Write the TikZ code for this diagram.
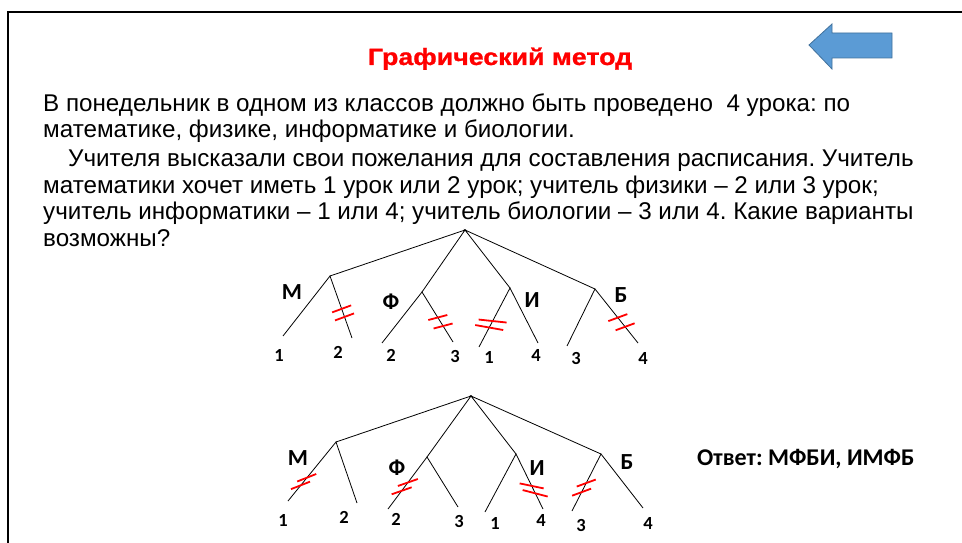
\documentclass[tikz,border=0pt]{standalone}
\usepackage{fontspec}
\setmainfont{Liberation Sans}
\newfontfamily\calibri{Carlito Bold}
\newfontfamily\titlefont[FakeStretch=1.14, FakeBold=1]{Liberation Sans Bold}
\frenchspacing
\usetikzlibrary{calc}
\definecolor{arrowblue}{HTML}{5B9BD5}
\definecolor{arrowedge}{HTML}{41719C}
\tikzset{
  body/.style={anchor=base west, inner sep=0pt, font=\fontsize{24.2}{28}\selectfont},
  branch/.style={line width=0.8pt},
  cut/.style={red, line width=1.8pt},
  letter/.style={inner sep=0pt, font=\calibri\fontsize{23}{26}\selectfont},
  num/.style={inner sep=0pt, font=\calibri\fontsize{18.5}{20}\selectfont}
}
\begin{document}
\begin{tikzpicture}[x=1pt,y=-1pt]
        \useasboundingbox (0,0) rectangle (962,543);
        % slide frame
        \draw [line width=2pt] (8,543) -- (8,12) -- (962,12);
        % back arrow
        \draw [fill=arrowblue, draw=arrowedge, line width=0.8pt] (809,45) -- (832,24) -- (832,33) -- (892,33) -- (892,58) -- (832,58) -- (832,69) -- cycle;
        % title and task
        \node [anchor=base, inner sep=0pt, text=red, font=\titlefont\fontsize{23.5}{26}\selectfont] (title) at (500,65) {Графический метод};
        \node [body] (l1) at (43,111) {В понедельник в одном из классов должно быть проведено \ 4 урока: по};
        \node [body] (l2) at (43,137) {математике, физике, информатике и биологии.};
        \node [body] (l3) at (68,166) {Учителя высказали свои пожелания для составления расписания. Учитель};
        \node [body] (l4) at (43,193) {математики хочет иметь 1 урок или 2 урок; учитель физики – 2 или 3 урок;};
        \node [body] (l5) at (43,219) {учитель информатики – 1 или 4; учитель биологии – 3 или 4. Какие варианты};
        \node [body] (l6) at (43,246) {возможны?};
        % first tree
        \coordinate (a) at (465,230);
        \coordinate (am) at (330,276);
        \coordinate (am1) at (283,336);
        \coordinate (am2) at (352,338);
        \coordinate (af) at (422,292);
        \coordinate (af1) at (382,343);
        \coordinate (af2) at (453,342);
        \coordinate (ai) at (510,288);
        \coordinate (ai1) at (479,347);
        \coordinate (ai2) at (538,343);
        \coordinate (ab) at (595,289);
        \coordinate (ab1) at (567,346);
        \coordinate (ab2) at (638,343);
        \draw [branch] (am) -- (a) -- (af);
        \draw [branch] (ai) -- (a) -- (ab);
        \draw [branch] (am1) -- (am) -- (am2);
        \draw [branch] (af1) -- (af) -- (af2);
        \draw [branch] (ai1) -- (ai) -- (ai2);
        \draw [branch] (ab1) -- (ab) -- (ab2);
        \draw [cut] ($(am)!0.53!(am2)$) ++(-9.5,3.5) -- ++(19,-7);
        \draw [cut] ($(am)!0.66!(am2)$) ++(-9.5,3.5) -- ++(19,-7);
        \draw [cut] ($(af)!0.51!(af2)$) ++(-9.5,2.5) -- ++(19,-5);
        \draw [cut] ($(af)!0.68!(af2)$) ++(-9.5,2.5) -- ++(19,-5);
        \draw [cut] ($(ai)!0.56!(ai1)$) ++(-14,-1.5) -- ++(28,3);
        \draw [cut] ($(ai)!0.67!(ai1)$) ++(-14,-2.5) -- ++(28,5);
        \draw [cut] ($(ab)!0.53!(ab2)$) ++(-9.5,3.5) -- ++(19,-7);
        \draw [cut] ($(ab)!0.70!(ab2)$) ++(-9.5,3.5) -- ++(19,-7);
        \node [letter] (am-l) at (292,292) {М};
        \node [letter] (af-l) at (391,302) {Ф};
        \node [letter] (ai-l) at (532,300) {И};
        \node [letter] (ab-l) at (621,295) {Б};
        \node [num] (am1-n) at (279,355) {1};
        \node [num] (am2-n) at (338,352) {2};
        \node [num] (af1-n) at (391,355) {2};
        \node [num] (af2-n) at (455,356) {3};
        \node [num] (ai1-n) at (489,357) {1};
        \node [num] (ai2-n) at (536,355) {4};
        \node [num] (ab1-n) at (576,358) {3};
        \node [num] (ab2-n) at (643,358) {4};
        % second tree
        \coordinate (b) at (471,396);
        \coordinate (bm) at (336,442);
        \coordinate (bm1) at (288,501);
        \coordinate (bm2) at (357,503);
        \coordinate (bf) at (427,457);
        \coordinate (bf1) at (388,509);
        \coordinate (bf2) at (458,507);
        \coordinate (bi) at (516,454);
        \coordinate (bi1) at (485,512);
        \coordinate (bi2) at (543,509);
        \coordinate (bb) at (601,454);
        \coordinate (bb1) at (572,511);
        \coordinate (bb2) at (643,508);
        \draw [branch] (bm) -- (b) -- (bf);
        \draw [branch] (bi) -- (b) -- (bb);
        \draw [branch] (bm1) -- (bm) -- (bm2);
        \draw [branch] (bf1) -- (bf) -- (bf2);
        \draw [branch] (bi1) -- (bi) -- (bi2);
        \draw [branch] (bb1) -- (bb) -- (bb2);
        \draw [cut] ($(bm)!0.61!(bm1)$) ++(-9.5,3.5) -- ++(19,-7.5);
        \draw [cut] ($(bm)!0.74!(bm1)$) ++(-9.5,3.5) -- ++(19,-7.5);
        \draw [cut] ($(bf)!0.49!(bf1)$) ++(-10,3.5) -- ++(20,-7);
        \draw [cut] ($(bf)!0.65!(bf1)$) ++(-10,3.5) -- ++(20,-7);
        \draw [cut] ($(bi)!0.58!(bi2)$) ++(-12,-2.5) -- ++(24,5);
        \draw [cut] ($(bi)!0.71!(bi2)$) ++(-12.5,-3) -- ++(25,6.5);
        \draw [cut] ($(bb)!0.51!(bb1)$) ++(-9.5,3.5) -- ++(19,-7);
        \draw [cut] ($(bb)!0.67!(bb1)$) ++(-9.5,3.5) -- ++(19,-7);
        \node [letter] (bm-l) at (298,458) {М};
        \node [letter] (bf-l) at (397,468) {Ф};
        \node [letter] (bi-l) at (537,468) {И};
        \node [letter] (bb-l) at (627,462) {Б};
        \node [num] (bm1-n) at (283,520) {1};
        \node [num] (bm2-n) at (344,517) {2};
        \node [num] (bf1-n) at (396,519) {2};
        \node [num] (bf2-n) at (459,521) {3};
        \node [num] (bi1-n) at (495,523) {1};
        \node [num] (bi2-n) at (541,520) {4};
        \node [num] (bb1-n) at (581,525) {3};
        \node [num] (bb2-n) at (648,523) {4};
        % answer
        \node [anchor=base west, inner sep=0pt, font=\calibri\fontsize{24}{26}\selectfont] (answer) at (697,465) {Ответ: МФБИ, ИМФБ};
    \end{tikzpicture}
\end{document}
